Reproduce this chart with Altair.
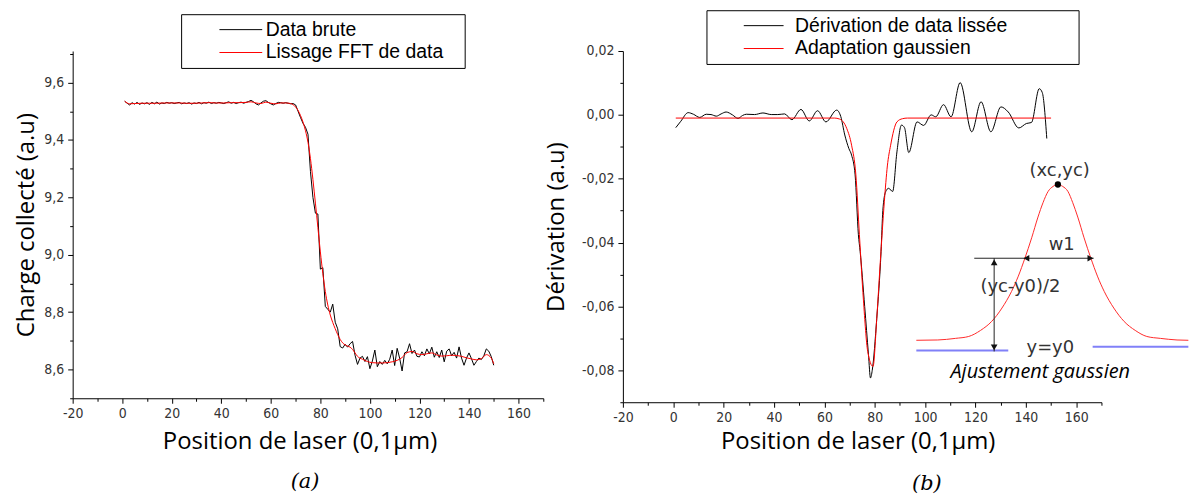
import altair as alt
import pandas as pd

# ---------------- Panel (a): collected charge ----------------
A_SERIES = ["Data brute", "Lissage FFT de data"]

raw_x = list(range(1, 151))
raw_y = [
    9.535, 9.528, 9.522, 9.530, 9.525, 9.531, 9.524, 9.529, 9.526, 9.530,
    9.524, 9.531, 9.526, 9.532, 9.525, 9.529, 9.527, 9.531, 9.528, 9.530,
    9.527, 9.529, 9.531, 9.526, 9.529, 9.527, 9.530, 9.525, 9.529, 9.527,
    9.531, 9.526, 9.530, 9.528, 9.532, 9.527, 9.530, 9.528, 9.531, 9.529,
    9.527, 9.530, 9.533, 9.528, 9.531, 9.527, 9.530, 9.532, 9.528, 9.531,
    9.534, 9.538, 9.533, 9.526, 9.522, 9.529, 9.535, 9.537, 9.531, 9.526,
    9.522, 9.527, 9.531, 9.530, 9.528, 9.530, 9.528, 9.526, 9.527, 9.522,
    9.500, 9.478, 9.458, 9.444, 9.420, 9.290, 9.200, 9.145, 9.142, 8.950,
    8.955, 8.820, 8.810, 8.800, 8.828, 8.765, 8.742, 8.680, 8.675, 8.688,
    8.678, 8.690, 8.698, 8.650, 8.618, 8.640, 8.646, 8.628, 8.645, 8.603,
    8.630, 8.668, 8.610, 8.628, 8.618, 8.632, 8.620, 8.636, 8.668, 8.614,
    8.674, 8.640, 8.595, 8.658, 8.662, 8.690, 8.656, 8.668, 8.646, 8.644,
    8.662, 8.648, 8.672, 8.655, 8.678, 8.643, 8.662, 8.642, 8.668, 8.627,
    8.664, 8.672, 8.648, 8.660, 8.640, 8.679, 8.640, 8.615, 8.640, 8.658,
    8.638, 8.615, 8.628, 8.640, 8.635, 8.648, 8.672, 8.664, 8.645, 8.615,
]

smooth_x = [1, 3, 5, 8, 11, 14, 17, 20, 23, 26, 29, 32, 35, 38, 41, 44, 47, 50,
            52, 54, 56, 58, 60, 62, 64, 66, 68, 70, 71, 72, 73, 74, 75, 76, 77,
            78, 79, 80, 81, 82, 83, 84, 85, 86, 87, 88, 89, 90, 91, 92, 93, 94,
            95, 97, 99, 101, 103, 105, 107, 109, 111, 113, 115, 117, 119, 121,
            123, 125, 127, 129, 131, 133, 135, 137, 139, 141, 143, 145, 147,
            149, 150]
smooth_y = [9.535, 9.526, 9.527, 9.528, 9.528, 9.528, 9.529, 9.529, 9.529,
            9.528, 9.528, 9.529, 9.530, 9.529, 9.529, 9.530, 9.530, 9.531,
            9.533, 9.529, 9.527, 9.532, 9.528, 9.526, 9.529, 9.529, 9.527,
            9.515, 9.503, 9.485, 9.462, 9.432, 9.392, 9.335, 9.262, 9.180,
            9.095, 9.010, 8.935, 8.872, 8.825, 8.790, 8.764, 8.742, 8.722,
            8.705, 8.693, 8.686, 8.682, 8.678, 8.670, 8.658, 8.646, 8.636,
            8.628, 8.624, 8.623, 8.623, 8.624, 8.627, 8.632, 8.642, 8.659,
            8.663, 8.655, 8.652, 8.655, 8.658, 8.651, 8.647, 8.648, 8.650,
            8.649, 8.646, 8.641, 8.637, 8.634, 8.638, 8.652, 8.640, 8.620]

# ---------------- Panel (b): derivative + gaussian fit ----------------
B_SERIES = ["Dérivation de data lissée", "Adaptation gaussien"]

deriv_x = [1, 3, 5.9, 8, 10.5, 13.1, 15, 17.1, 19, 21, 23.5, 25.7, 27.5, 29,
           32.3, 35.6, 38.9, 41.5, 44.2, 47.1, 50.7, 54, 57.3, 60.6, 64.9,
           66.5, 68.1, 69.7, 70.8, 72.2, 73.5, 74.2, 76, 77.5, 78.3, 79, 80.8,
           82.5, 83.2, 84.3, 85.5, 87.1, 88.8, 90.6, 91.8, 93.5, 96.8, 99.4,
           102.4, 104.2, 107.3, 110.3, 113.9, 118.5, 122.2, 126.1, 130.1, 133,
           137.2, 140.2, 142.2, 145.3, 146.5, 148.3]
deriv_y = [-0.0040, -0.0020, 0.0007, 0.0002, -0.0008, 0.0002, 0.0001,
           -0.0004, 0.0003, 0.0009, 0.0000, -0.0011, -0.0002, 0.0002, 0.0001,
           0.0006, 0.0001, 0.0001, 0.0003, -0.0015, 0.0017, -0.0019, 0.0013,
           -0.0022, 0.0015, -0.0005, -0.0063, -0.0105, -0.0126, -0.0188,
           -0.0375, -0.0428, -0.0600, -0.0750, -0.0824, -0.0800, -0.0637,
           -0.0428, -0.0300, -0.0241, -0.0230, -0.0240, -0.0116, -0.0032,
           -0.0040, -0.0118, -0.0022, -0.0033, 0.0000, -0.0006, 0.0032,
           -0.0006, 0.0101, -0.0053, 0.0041, -0.0053, 0.0025, 0.0009, -0.0041,
           -0.0027, -0.0024, 0.0082, 0.0070, -0.0074]

fit_x = [1, 64, 66, 68.9, 70.8, 72.5, 73.9, 75.5, 77.2, 79.3, 80.8, 82.2,
         83.8, 85, 86.3, 88.8, 91, 93, 150]
fit_y = [-0.0010, -0.0010, -0.0013, -0.0043, -0.0095, -0.0188, -0.0375,
         -0.0580, -0.0741, -0.0788, -0.0637, -0.0460, -0.0272, -0.0160,
         -0.0095, -0.0022, -0.0012, -0.0010, -0.0010]

# schematic "Ajustement gaussien" inset (right panel data units)
inset_x = [96.5, 105, 112, 117.3, 122, 126.4, 130.5, 134.3, 137, 139.6, 142.3,
           144.8, 146.8, 148.8, 150.8, 152.7, 154.6, 156.7, 158.6, 160.6,
           163.1, 165.8, 168.4, 171.1, 174.9, 179, 183.4, 188, 193.4, 200,
           204.5]
inset_y = [-0.0706, -0.0705, -0.0700, -0.0694, -0.0675, -0.0647, -0.0605,
           -0.0553, -0.0505, -0.0449, -0.0385, -0.0320, -0.0275, -0.0240,
           -0.0224, -0.0218, -0.0224, -0.0240, -0.0275, -0.0320, -0.0385,
           -0.0449, -0.0505, -0.0553, -0.0605, -0.0647, -0.0675, -0.0694,
           -0.0700, -0.0705, -0.0706]
blue_x = [96.5, 166.5]
blue_x2 = [133.0, 204.5]
blue_y = [-0.0738, -0.0726]
harrow_x, harrow_x2, harrow_y = [119.5], [166.9], [-0.0449]
varrow_x, varrow_y, varrow_y2 = [127.4], [-0.0449], [-0.0741]
head_x = [140.2, 165.6, 127.4, 127.4]
head_y = [-0.0449, -0.0449, -0.0462, -0.0728]
head_shape = ["triangle-left", "triangle-right", "triangle-up", "triangle-down"]
peak_x, peak_y = [152.7], [-0.0218]
note_x = [153.4, 154.2, 137.8, 149.7]
note_y = [-0.0175, -0.0409, -0.0540, -0.0731]
note_t = ["(xc,yc)", "w1", "(yc-y0)/2", "y=y0"]
fitnote_x, fitnote_y, fitnote_t = [145.7], [-0.0806], ["Ajustement gaussien"]

# ---------------- styling ----------------
TITLE_FONT = "Open Sans"
LEGEND_FONT = "Liberation Sans"
TICK_FONT = "Liberation Sans Narrow, DejaVu Sans Condensed, Liberation Sans"


def x_axis(title_x, title_y):
    return alt.Axis(
        title="Position de laser (0,1µm)", values=list(range(-20, 171, 10)),
        labelExpr="datum.value % 20 === 0 && datum.value < 170 ? '' + datum.value : ''",
        tickSize={"condition": {"test": "datum.value % 20 === 0", "value": 5}, "value": 3},
        titleX=title_x, titleY=title_y, titleBaseline="middle", titleAlign="center",
        titleFont=TITLE_FONT, titleFontSize=24, titleFontWeight="normal", titleColor="black",
        labelFont=TICK_FONT, labelFontSize=14, labelColor="#333", labelPadding=3,
        labelOverlap=False, labelFlush=False, labelAngle=0,
        tickColor="black", domainColor="black", grid=False)


def y_axis(title, values, mult, fmt, title_x):
    return alt.Axis(
        title=title, values=values,
        labelExpr=(f"round(datum.value*{mult}) % 2 === 0 ? "
                   f"replace(replace(format(datum.value, '{fmt}'), '.', ','), '\u2212', '-') : ''"),
        tickSize={"condition": {"test": f"round(datum.value*{mult}) % 2 === 0", "value": 5}, "value": 3},
        titleX=title_x, titleBaseline="middle", titleAlign="center", titleAngle=-90,
        titleFont=TITLE_FONT, titleFontSize=24, titleFontWeight="normal", titleColor="black",
        labelFont=TICK_FONT, labelFontSize=14, labelColor="#333", labelPadding=4,
        labelOverlap=False, labelFlush=False,
        tickColor="black", domainColor="black", grid=False)


def legend(x, y, size, sym_off, lab_off, right_gap):
    # the right-hand title is a white dot on the white legend fill: it only widens the frame
    return alt.Legend(
        title=".", titleOrient="right", titleColor="white", titleFontSize=10,
        titlePadding=right_gap,
        orient="none", legendX=x, legendY=y, direction="vertical",
        symbolType="stroke", symbolSize=size, symbolStrokeWidth=1, clipHeight=23,
        padding=4, strokeColor="black", fillColor="white",
        labelFont=LEGEND_FONT, labelFontSize=19.5, labelColor="black", labelLimit=600,
        symbolOffset=sym_off, labelOffset=lab_off, rowPadding=0)


# ---------------- panel (a) ----------------
AW, AH = 473, 349
xa = alt.X("x:Q", scale=alt.Scale(domain=[-20, 170], nice=False, zero=False),
           axis=x_axis(228, 44))
ya = alt.Y("y:Q", scale=alt.Scale(domain=[8.5, 9.71], nice=False, zero=False),
           axis=y_axis("Charge collecté (a.u)",
                       [round(8.5 + 0.1 * i, 1) for i in range(13)], 10, ".1f", -46))
ca = alt.Color("s:N", scale=alt.Scale(domain=A_SERIES, range=["#000000", "#ff0000"]),
               legend=legend(109, -37, 43 * 43, 34, 3, 14))

dfa_raw = pd.DataFrame({"x": raw_x, "y": raw_y, "s": A_SERIES[0]})
dfa_s = pd.DataFrame({"x": smooth_x, "y": smooth_y, "s": A_SERIES[1]})

panel_a = alt.layer(
    alt.Chart(dfa_raw).mark_line(strokeWidth=1).encode(x=xa, y=ya, color=ca),
    alt.Chart(dfa_s).mark_line(strokeWidth=1, interpolate="monotone").encode(x=xa, y=ya, color=ca),
).properties(
    width=AW, height=AH,
    title=alt.TitleParams("(a)", orient="bottom", anchor="middle", frame="group",
                          font="DejaVu Serif", fontStyle="italic", fontSize=21,
                          fontWeight="normal", color="black", offset=17, dx=-3),
)

# ---------------- panel (b) ----------------
BW, BH = 481, 353
xb = alt.X("x:Q", scale=alt.Scale(domain=[-20, 170], nice=False, zero=False),
           axis=x_axis(236, 40))
yb = alt.Y("y:Q", scale=alt.Scale(domain=[-0.09, 0.02], nice=False, zero=False),
           axis=y_axis("Dérivation (a.u)",
                       [round(-0.09 + 0.01 * i, 2) for i in range(12)], 100, ".2f", -67))
cb = alt.Color("s:N", scale=alt.Scale(domain=B_SERIES, range=["#000000", "#ff0000"]),
               legend=legend(84, -41, 40 * 40, 33, 11, 64))

dfb_d = pd.DataFrame({"x": deriv_x, "y": deriv_y, "s": B_SERIES[0]})
dfb_f = pd.DataFrame({"x": fit_x, "y": fit_y, "s": B_SERIES[1]})
df_inset = pd.DataFrame({"x": inset_x, "y": inset_y})
df_blue = pd.DataFrame({"x": blue_x, "x2": blue_x2, "y": blue_y})
df_h = pd.DataFrame({"x": harrow_x, "x2": harrow_x2, "y": harrow_y})
df_v = pd.DataFrame({"x": varrow_x, "y": varrow_y, "y2": varrow_y2})
df_heads = pd.DataFrame({"x": head_x, "y": head_y, "shape": head_shape})
df_peak = pd.DataFrame({"x": peak_x, "y": peak_y})
df_notes = pd.DataFrame({"x": note_x, "y": note_y, "t": note_t})
df_fitnote = pd.DataFrame({"x": fitnote_x, "y": fitnote_y, "t": fitnote_t})

panel_b = alt.layer(
    alt.Chart(dfb_d).mark_line(strokeWidth=1, interpolate="monotone").encode(x=xb, y=yb, color=cb),
    alt.Chart(dfb_f).mark_line(strokeWidth=1, interpolate="monotone").encode(x=xb, y=yb, color=cb),
    alt.Chart(df_inset).mark_line(strokeWidth=1, color="#ff2a2a", interpolate="monotone").encode(x=xb, y=yb),
    alt.Chart(df_blue).mark_rule(strokeWidth=2, color="#8080f8").encode(x=xb, x2="x2:Q", y=yb),
    alt.Chart(df_h).mark_rule(strokeWidth=1, color="#222").encode(x=xb, x2="x2:Q", y=yb),
    alt.Chart(df_v).mark_rule(strokeWidth=1, color="#222").encode(x=xb, y=yb, y2="y2:Q"),
    alt.Chart(df_heads).mark_point(filled=True, size=45, color="#111", opacity=1).encode(
        x=xb, y=yb, shape=alt.Shape("shape:N", scale=None)),
    alt.Chart(df_peak).mark_circle(size=40, color="#000", opacity=1).encode(x=xb, y=yb),
    alt.Chart(df_notes).mark_text(font="DejaVu Sans", fontSize=18, color="#333",
                                  baseline="middle", align="center").encode(x=xb, y=yb, text="t:N"),
    alt.Chart(df_fitnote).mark_text(font=TITLE_FONT, fontSize=20, fontStyle="italic", color="black",
                                    baseline="middle", align="center").encode(x=xb, y=yb, text="t:N"),
).properties(
    width=BW, height=BH,
    title=alt.TitleParams("(b)", orient="bottom", anchor="middle", frame="group",
                          font="DejaVu Serif", fontStyle="italic", fontSize=21,
                          fontWeight="normal", color="black", offset=19, dx=65),
)

chart = alt.hconcat(panel_a, panel_b, spacing=80, bounds="flush").resolve_scale(
    color="independent", x="independent", y="independent"
).resolve_legend(color="independent").configure_view(strokeWidth=0).properties(
    padding={"left": 7, "top": 0, "right": 0, "bottom": 0}, background="white"
)

chart.save("out.html", embed_options={"renderer": "svg", "actions": False})
